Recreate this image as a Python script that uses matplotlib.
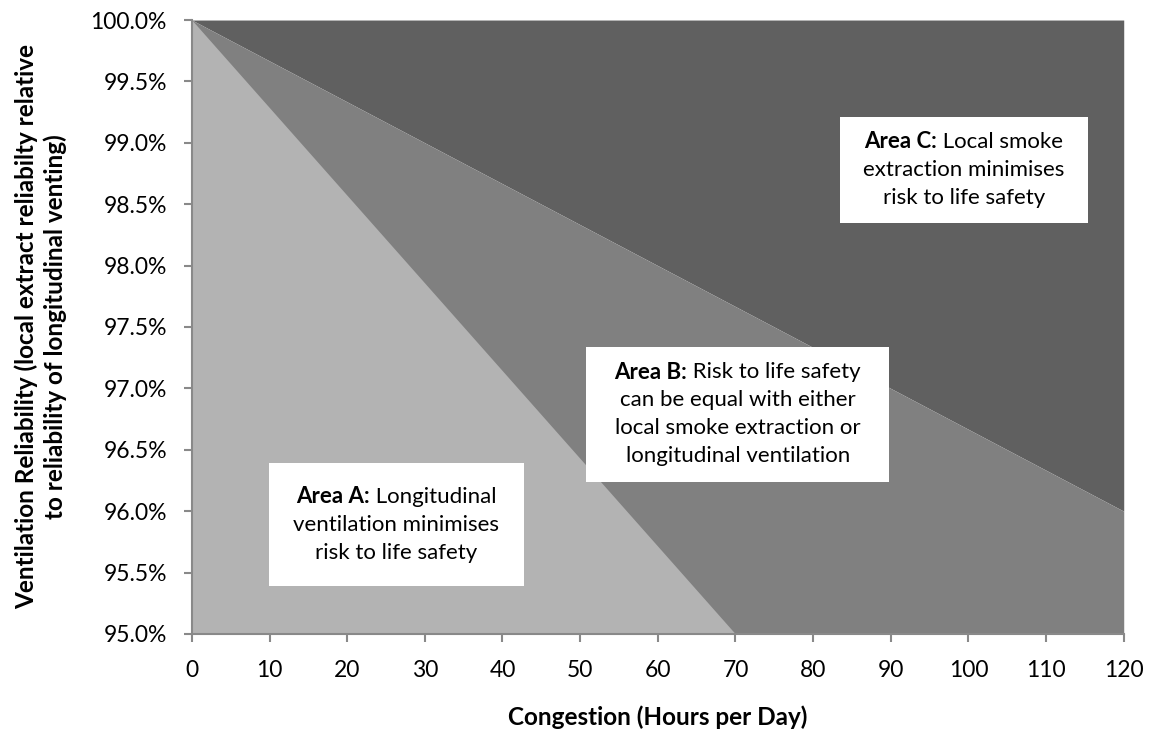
import numpy as np
import matplotlib
matplotlib.use('Agg')
import matplotlib.pyplot as plt
from matplotlib.patches import Rectangle
from matplotlib.ticker import PercentFormatter, MultipleLocator

plt.rcParams.update({
    'font.family': ['Lato', 'DejaVu Sans'],
    'font.size': 16,
})

# boundary lines of the three areas (congestion h/day, reliability fraction)
boundary_a_x = [0, 70]
boundary_a_y = [1.00, 0.95]
boundary_c_x = [0, 120]
boundary_c_y = [1.00, 0.96]

x_ticks = list(range(0, 121, 10))

labels = [
    # (centre x, centre y, bold part, first line rest, other lines, box w px, box h px)
    (26.3, 0.95888, 'Area A:', 'Longitudinal',
     ['ventilation minimises', 'risk to life safety'], 255, 123),
    (70.3, 0.9679, 'Area B:', 'Risk to life safety',
     ['can be equal with either', 'local smoke extraction or',
      'longitudinal ventilation'], 303, 135),
    (99.4, 0.9878, 'Area C:', 'Local smoke',
     ['extraction minimises', 'risk to life safety'], 248, 106),
]

col_a = '#b3b3b3'
col_b = '#808080'
col_c = '#606060'
spine_col = '#898989'

fig = plt.figure(figsize=(11.49, 7.42), dpi=100)
ax = fig.add_axes([0.167, 0.1456, 0.811, 0.8274])

ax.fill_between(boundary_c_x, boundary_c_y, [1.0, 1.0], color=col_c, lw=0)
ax.fill_between(boundary_c_x, [0.95, 0.95], boundary_c_y, color=col_b, lw=0)
ax.fill_between(boundary_a_x, [0.95, 0.95], boundary_a_y, color=col_a, lw=0)

ax.set_xlim(0, 120)
ax.set_ylim(0.95, 1.0)
ax.set_xticks(x_ticks)
ax.yaxis.set_major_locator(MultipleLocator(0.005))
ax.yaxis.set_major_formatter(PercentFormatter(xmax=1, decimals=1))

for s in ['top', 'right']:
    ax.spines[s].set_visible(False)
for s in ['left', 'bottom']:
    ax.spines[s].set_color(spine_col)
    ax.spines[s].set_linewidth(1.5)
ax.tick_params(axis='both', color=spine_col, width=1.5, length=6,
               labelsize=16.5, labelcolor='black')
ax.tick_params(axis='x', pad=13)
ax.tick_params(axis='y', pad=12)

ax.set_xlabel('Congestion (Hours per Day)', fontweight='bold', fontsize=17.5)
ax.xaxis.set_label_coords(0.5, -0.117)
ax.set_ylabel('Ventilation Reliability (local extract reliabilty relative\n'
              'to reliability of longitudinal venting)', fontweight='bold',
              fontsize=17.5, linespacing=1.25)
ax.yaxis.set_label_coords(-0.134, 0.5)

# text boxes
renderer = fig.canvas.get_renderer()
ppx = 72.0 / fig.dpi  # points per pixel
line_h = 28  # px
x_scale = 120 / (ax.get_position().width * fig.bbox.width)
y_scale = 0.05 / (ax.get_position().height * fig.bbox.height)

for cx, cy, bold, rest, more, bw, bh in labels:
    ax.add_patch(Rectangle((cx - bw / 2 * x_scale, cy - bh / 2 * y_scale),
                           bw * x_scale, bh * y_scale, facecolor='white',
                           edgecolor='none', zorder=3))
    n = 1 + len(more)
    top = (n - 1) / 2 * line_h
    tb = ax.annotate(bold, (cx, cy), xytext=(0, 0), textcoords='offset points',
                     fontweight='bold', ha='left', va='center', zorder=4)
    tr = ax.annotate(' ' + rest, (cx, cy), xytext=(0, 0),
                     textcoords='offset points', ha='left', va='center', zorder=4)
    wb = tb.get_window_extent(renderer).width
    wr = tr.get_window_extent(renderer).width
    start = -(wb + wr) / 2
    tb.set_position((start * ppx, top * ppx))
    tr.set_position(((start + wb) * ppx, top * ppx))
    for i, ln in enumerate(more, start=1):
        ax.annotate(ln, (cx, cy), xytext=(0, (top - i * line_h) * ppx),
                    textcoords='offset points', ha='center', va='center',
                    zorder=4)

fig.savefig('out.png', dpi=100)
